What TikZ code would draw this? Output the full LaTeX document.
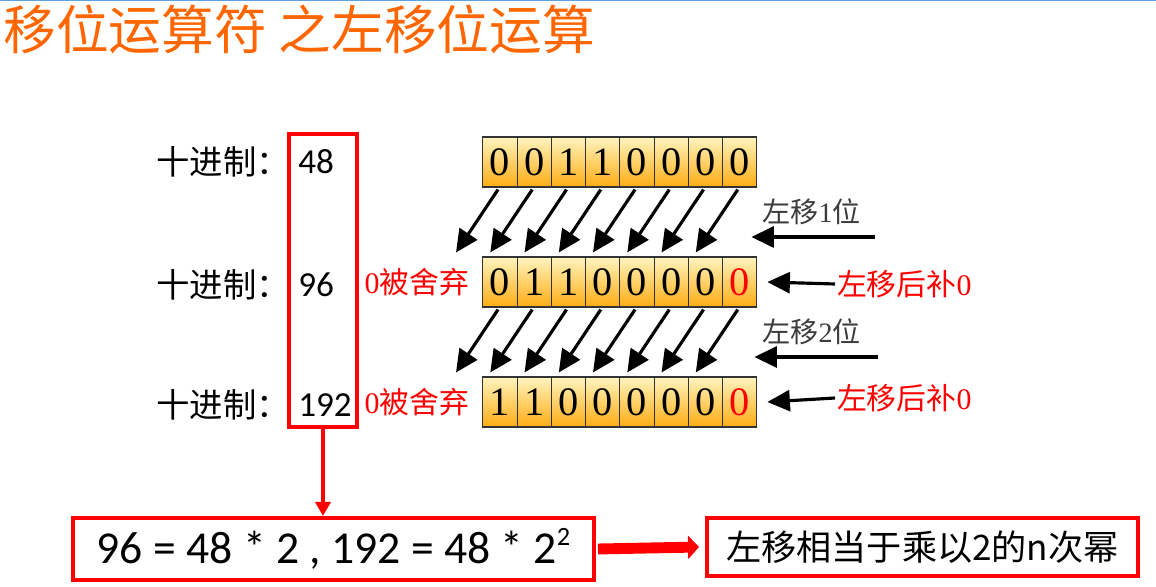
\documentclass[tikz,border=0pt]{standalone}
\usepackage{fontspec}
\setmainfont{Liberation Serif}
\newfontfamily\cjk{Noto Sans CJK SC}
\newfontfamily\cali{Carlito}
\usepackage{tikz}
\usetikzlibrary{positioning,arrows.meta,calc}
\usepackage{xcolor}
\definecolor{titleorange}{RGB}{255,102,0}
\definecolor{celltop}{RGB}{255,244,190}
\definecolor{cellbottom}{RGB}{255,172,20}
\definecolor{boxred}{RGB}{255,0,0}
\definecolor{topblue}{RGB}{91,163,228}
\definecolor{notegray}{RGB}{60,60,60}

\begin{document}
\begin{tikzpicture}[
    x=0.02cm, y=-0.02cm,
    bitcell/.style={
      draw=black!80,
      line width=0.6pt,
      inner sep=0pt,
      minimum width=0.685cm,
      minimum height=1cm,
      top color=celltop,
      bottom color=cellbottom,
      font=\fontsize{23pt}{23pt}\selectfont
    },
    shiftarrow/.style={
      line width=1.8pt,
      -{Triangle[length=0.45cm,width=0.42cm]}
    },
    redbox/.style={
      draw=boxred,
      line width=2.3pt,
      inner sep=0pt
    },
    redtext/.style={
      text=boxred,
      inner sep=1pt,
      font=\fontsize{17pt}{17pt}\selectfont
    },
    declabel/.style={
      inner sep=0pt,
      font=\cjk\fontsize{19pt}{19pt}\selectfont
    },
    decnum/.style={
      inner sep=0pt,
      font=\cali\fontsize{20pt}{20pt}\selectfont
    }
  ]

    \useasboundingbox (0,0) rectangle (1156,587);
    \fill[topblue] (0,0) rectangle (1156,1.5);

    % Titel
    \node[anchor=west, inner sep=0pt, text=titleorange,
      font=\cjk\fontsize{30pt}{30pt}\selectfont] (title) at (3,29)
      {移位运算符 之左移位运算};

    % Dezimalwerte
    \foreach \v/\y/\n in {48/162/one, 96/285/two, 192/405/three} {
      \node[declabel, anchor=west] (lab\n) at (156,\y) {十进制：};
      \node[decnum, anchor=west] (num\n) at (298,\y) {\v};
    }
    \node[redbox, minimum width=1.36cm, minimum height=5.86cm]
      (decbox) at (323,280.5) {};

    % Bitreihen
    \foreach \d [count=\i from 0] in {0,0,1,1,0,0,0,0}
      \node[bitcell] (a\i) at (500+34.25*\i,162) {\d};
    \foreach \d [count=\i from 0] in {0,1,1,0,0,0,0,{\color{boxred}0}}
      \node[bitcell] (b\i) at (500+34.25*\i,282) {\d};
    \foreach \d [count=\i from 0] in {1,1,0,0,0,0,0,{\color{boxred}0}}
      \node[bitcell] (c\i) at (500+34.25*\i,402) {\d};

    % Verschiebung
    \foreach \i in {0,...,7} {
      \draw[shiftarrow] ($(a\i.south)+(-2,2)$) -- ($(b\i.north)+(-44,-4)$);
      \draw[shiftarrow] ($(b\i.south)+(-2,2)$) -- ($(c\i.north)+(-44,-4)$);
    }

    % verworfene Bits
    \node[redtext, anchor=east] (dropone) at ($(b0.west)+(-11,0)$)
      {0{\cjk 被舍弃}};
    \node[redtext, anchor=east] (droptwo) at ($(c0.west)+(-11,0)$)
      {0{\cjk 被舍弃}};

    % Schritte rechts
    \node[anchor=west, inner sep=0pt, text=notegray,
      font=\fontsize{16pt}{16pt}\selectfont] (stepone) at (762,212)
      {{\cjk 左移}1{\cjk 位}};
    \coordinate (inone) at (875,237);
    \draw[shiftarrow] (inone) -- ($(inone -| a7.east)+(-6,0)$);

    \node[anchor=west, inner sep=0pt, text=notegray,
      font=\fontsize{16pt}{16pt}\selectfont] (steptwo) at (762,332)
      {{\cjk 左移}2{\cjk 位}};
    \coordinate (intwo) at (878,357);
    \draw[shiftarrow] (intwo) -- ($(intwo -| b7.east)+(-3,0)$);

    \node[redtext, anchor=west] (fillone) at (835,284)
      {{\cjk 左移后补}0};
    \draw[shiftarrow] (fillone.west) -- ($(b7.east)+(10,0)$);

    \node[redtext, anchor=west] (filltwo) at (835,398)
      {{\cjk 左移后补}0};
    \draw[shiftarrow] (filltwo.west) -- ($(c7.east)+(10,0)$);

    % Ergebnis
    \node[redbox, minimum width=10.42cm, minimum height=1.24cm,
      font=\cali\fontsize{26pt}{26pt}\selectfont] (eqbox) at (333.5,549)
      {96 = 48 * 2 , 192 = 48 * 2\raisebox{0.4em}{\fontsize{15pt}{15pt}\selectfont 2}};

    \node[redbox, minimum width=8.62cm, minimum height=1.16cm,
      font=\cjk\fontsize{20pt}{20pt}\selectfont] (rulebox) at (922.5,547)
      {左移相当于乘以2的n次幂};

    \draw[boxred, line width=2.3pt, -{Triangle[length=0.28cm,width=0.3cm]}]
      (decbox.south) -- (decbox.south |- eqbox.north);
    \draw[boxred, line width=6.2pt, -{Triangle[length=0.22cm,width=0.46cm]}]
      ($(eqbox.east)+(2,0)$) -- ($(rulebox.west)+(-6,0)$);

  \end{tikzpicture}
\end{document}
